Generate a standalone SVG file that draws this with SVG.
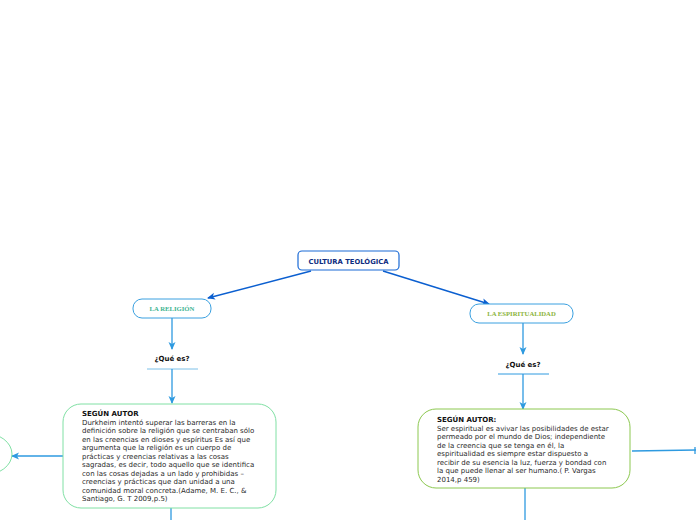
<svg xmlns="http://www.w3.org/2000/svg" width="696" height="520" viewBox="0 0 696 520">
<defs>
<marker id="ad" markerWidth="8" markerHeight="8" refX="7" refY="4" orient="auto" markerUnits="userSpaceOnUse"><path d="M0,0.5 L8,4 L0,7.5 L2,4 Z" fill="#0b5fd0"/></marker>
<marker id="al" markerWidth="8" markerHeight="8" refX="7" refY="4" orient="auto" markerUnits="userSpaceOnUse"><path d="M0,0.5 L8,4 L0,7.5 L2,4 Z" fill="#2e9ae0"/></marker>
</defs>
<style>
.t{font-family:"DejaVu Sans",Verdana,sans-serif;font-size:7px;fill:#2a2a2a}
.b{font-weight:bold;fill:#111}
.lbl{font-family:"Liberation Serif","Times New Roman",serif;font-size:6.7px;font-weight:bold;text-anchor:middle}
.cl{stroke:#2e9ae0;stroke-width:1.3;fill:none}
</style>
<rect width="696" height="520" fill="#fff"/>
<g id="connectors">
<line x1="311" y1="271" x2="208" y2="298" stroke="#0b5fd0" stroke-width="1.4" marker-end="url(#ad)"/>
<line x1="383" y1="271" x2="489" y2="304" stroke="#0b5fd0" stroke-width="1.4" marker-end="url(#ad)"/>
<line x1="172" y1="318" x2="172" y2="349" class="cl" marker-end="url(#al)"/>
<line x1="147" y1="369" x2="198" y2="369" stroke="#7cc0e8" stroke-width="1"/>
<line x1="172" y1="369" x2="172" y2="403" class="cl" marker-end="url(#al)"/>
<line x1="523" y1="323" x2="523" y2="354" class="cl" marker-end="url(#al)"/>
<line x1="498" y1="374" x2="549" y2="374" stroke="#2e9ae0" stroke-width="1"/>
<line x1="523" y1="374" x2="523" y2="409" class="cl" marker-end="url(#al)"/>
<line x1="63" y1="456" x2="12" y2="456" class="cl" marker-end="url(#al)"/>
<line x1="171" y1="508" x2="171" y2="520" class="cl"/>
<line x1="632" y1="451" x2="696" y2="450" class="cl"/>
<line x1="695" y1="447" x2="695" y2="454" stroke="#2e9ae0" stroke-width="1.3"/>
<line x1="525" y1="488" x2="525" y2="520" class="cl"/>
</g>
<g id="n-central">
<rect x="298" y="251" width="101" height="19" rx="4" fill="#fff" stroke="#1a6ad6" stroke-width="1.2"/>
<text x="348.5" y="263.5" text-anchor="middle" font-family="DejaVu Sans,Verdana,sans-serif" font-size="6.8" font-weight="bold" fill="#0d2c80">CULTURA TEOLÓGICA</text>
</g>
<g id="n-religion">
<rect x="133" y="299" width="78" height="19" rx="9" fill="#fff" stroke="#3aa0e0" stroke-width="1"/>
<text x="172" y="311" class="lbl" fill="#3cb490">LA RELIGIÓN</text>
</g>
<g id="n-espiritualidad">
<rect x="470" y="304" width="103" height="19" rx="9" fill="#fff" stroke="#3aa0e0" stroke-width="1"/>
<text x="521.5" y="316" class="lbl" fill="#8cb43c">LA ESPIRITUALIDAD</text>
</g>
<g id="n-que1">
<text x="172" y="361" text-anchor="middle" class="t b">¿Qué es?</text>
</g>
<g id="n-que2">
<text x="523" y="367" text-anchor="middle" class="t b">¿Qué es?</text>
</g>
<g id="n-autor1">
<rect x="63" y="404" width="213" height="104" rx="18" fill="#fff" stroke="#80e0a4" stroke-width="1"/>
<text class="t">
<tspan x="82" y="416" class="b">SEGÚN AUTOR</tspan>
<tspan x="82" y="424.5">Durkheim intentó superar las barreras en la</tspan>
<tspan x="82" y="433">definición sobre la religión que se centraban sólo</tspan>
<tspan x="82" y="441.5">en las creencias en dioses y espíritus Es así que</tspan>
<tspan x="82" y="450">argumenta que la religión es un cuerpo de</tspan>
<tspan x="82" y="458.5">prácticas y creencias relativas a las cosas</tspan>
<tspan x="82" y="467">sagradas, es decir, todo aquello que se identifica</tspan>
<tspan x="82" y="475.5">con las cosas dejadas a un lado y prohibidas –</tspan>
<tspan x="82" y="484">creencias y prácticas que dan unidad a una</tspan>
<tspan x="82" y="492.5">comunidad moral concreta.(Adame, M. E. C., &amp;</tspan>
<tspan x="82" y="501">Santiago, G. T 2009,p.5)</tspan>
</text>
</g>
<g id="n-autor2">
<rect x="418" y="409" width="212" height="79" rx="18" fill="#fff" stroke="#8cc850" stroke-width="1"/>
<text class="t">
<tspan x="437" y="422" class="b">SEGÚN AUTOR:</tspan>
<tspan x="437" y="430.5">Ser espiritual es avivar las posibilidades de estar</tspan>
<tspan x="437" y="439">permeado por el mundo de Dios; independiente</tspan>
<tspan x="437" y="447.5">de la creencia que se tenga en él, la</tspan>
<tspan x="437" y="456">espiritualidad es siempre estar dispuesto a</tspan>
<tspan x="437" y="464.5">recibir de su esencia la luz, fuerza y bondad con</tspan>
<tspan x="437" y="473">la que puede llenar al ser humano.( P. Vargas</tspan>
<tspan x="437" y="481.5">2014,p 459)</tspan>
</text>
</g>
<g id="n-left">
<ellipse cx="-16" cy="454" rx="28" ry="21" fill="#fff" stroke="#80e0a4" stroke-width="1"/>
</g>
</svg>
